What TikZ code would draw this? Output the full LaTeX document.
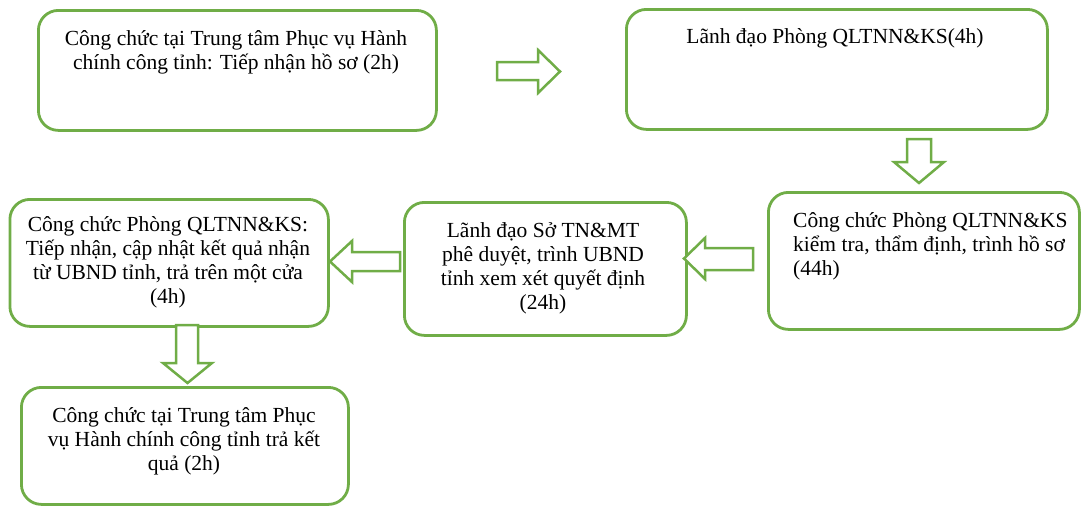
\documentclass[tikz,border=0pt]{standalone}
\usepackage{fontspec}
\setmainfont{Liberation Serif}
\definecolor{grn}{HTML}{70AD47}
\newcommand\clines[1]{\vtop{\lineskiplimit=-100pt\lineskip=0pt\baselineskip=24pt\halign{\hfil##\hfil\cr#1\crcr}}}
\newcommand\llines[1]{\vtop{\lineskiplimit=-100pt\lineskip=0pt\baselineskip=24pt\halign{##\hfil\cr#1\crcr}}}
\begin{document}
\begin{tikzpicture}[x=1pt,y=-1pt,
  box/.style={draw=grn, line width=2.8pt, rounded corners=20pt, fill=white, anchor=north west, inner sep=0pt},
  txt/.style={inner sep=0pt, font=\fontsize{21.5pt}{24pt}\selectfont, text=black},
  blockarrow/.style={draw=grn, line width=2.5pt, fill=white, line join=miter}]
\useasboundingbox (0,0) rectangle (1082,509);
% boxes
\node[box, minimum width=398pt, minimum height=120pt] (b1) at (37,9) {};
\node[box, minimum width=421pt, minimum height=120pt] (b2) at (625,8) {};
\node[box, minimum width=311pt, minimum height=137pt] (b3) at (767,191) {};
\node[box, minimum width=282pt, minimum height=133pt] (b4) at (403,201) {};
\node[box, minimum width=318.5pt, minimum height=127pt] (b5) at (8.5,198) {};
\node[box, minimum width=327pt, minimum height=117pt] (b6) at (20,386) {};
% texts
\node[txt, anchor=base] (t1) at (236,45) {\clines{Công chức tại Trung tâm Phục vụ Hành\cr chính công tỉnh: Tiếp nhận hồ sơ (2h)}};
\node[txt, anchor=base] (t2) at (835,43) {\clines{Lãnh đạo Phòng QLTNN\&KS(4h)}};
\node[txt, anchor=base west] (t3) at (793,227) {\llines{Công chức Phòng QLTNN\&KS\cr kiểm tra, thẩm định, trình hồ sơ\cr (44h)}};
\node[txt, anchor=base] (t4) at (543,237) {\clines{Lãnh đạo Sở TN\&MT\cr phê duyệt, trình UBND\cr tỉnh xem xét quyết định\cr (24h)}};
\node[txt, anchor=base] (t5) at (168,231) {\clines{Công chức Phòng QLTNN\&KS:\cr Tiếp nhận, cập nhật kết quả nhận\cr từ UBND tỉnh, trả trên một cửa\cr (4h)}};
\node[txt, anchor=base] (t6) at (184,422) {\clines{Công chức tại Trung tâm Phục\cr vụ Hành chính công tỉnh trả kết\cr quả (2h)}};
% block arrows
\draw[blockarrow] (497,62) -- (538,62) -- (538,50) -- (560,71.5) -- (538,93) -- (538,80) -- (497,80) -- cycle;
\draw[blockarrow] (907,139) -- (931,139) -- (931,162) -- (944,162) -- (919,183) -- (894,162) -- (907,162) -- cycle;
\draw[blockarrow] (753,248) -- (705,248) -- (705,238) -- (684,258.5) -- (705,279) -- (705,270) -- (753,270) -- cycle;
\draw[blockarrow] (400,252) -- (352,252) -- (352,241) -- (330,261.5) -- (352,282) -- (352,271) -- (400,271) -- cycle;
\draw[blockarrow] (176,325) -- (176,363) -- (163,363) -- (187.5,383) -- (212,363) -- (198,363) -- (198,325) -- cycle;
\end{tikzpicture}
\end{document}
